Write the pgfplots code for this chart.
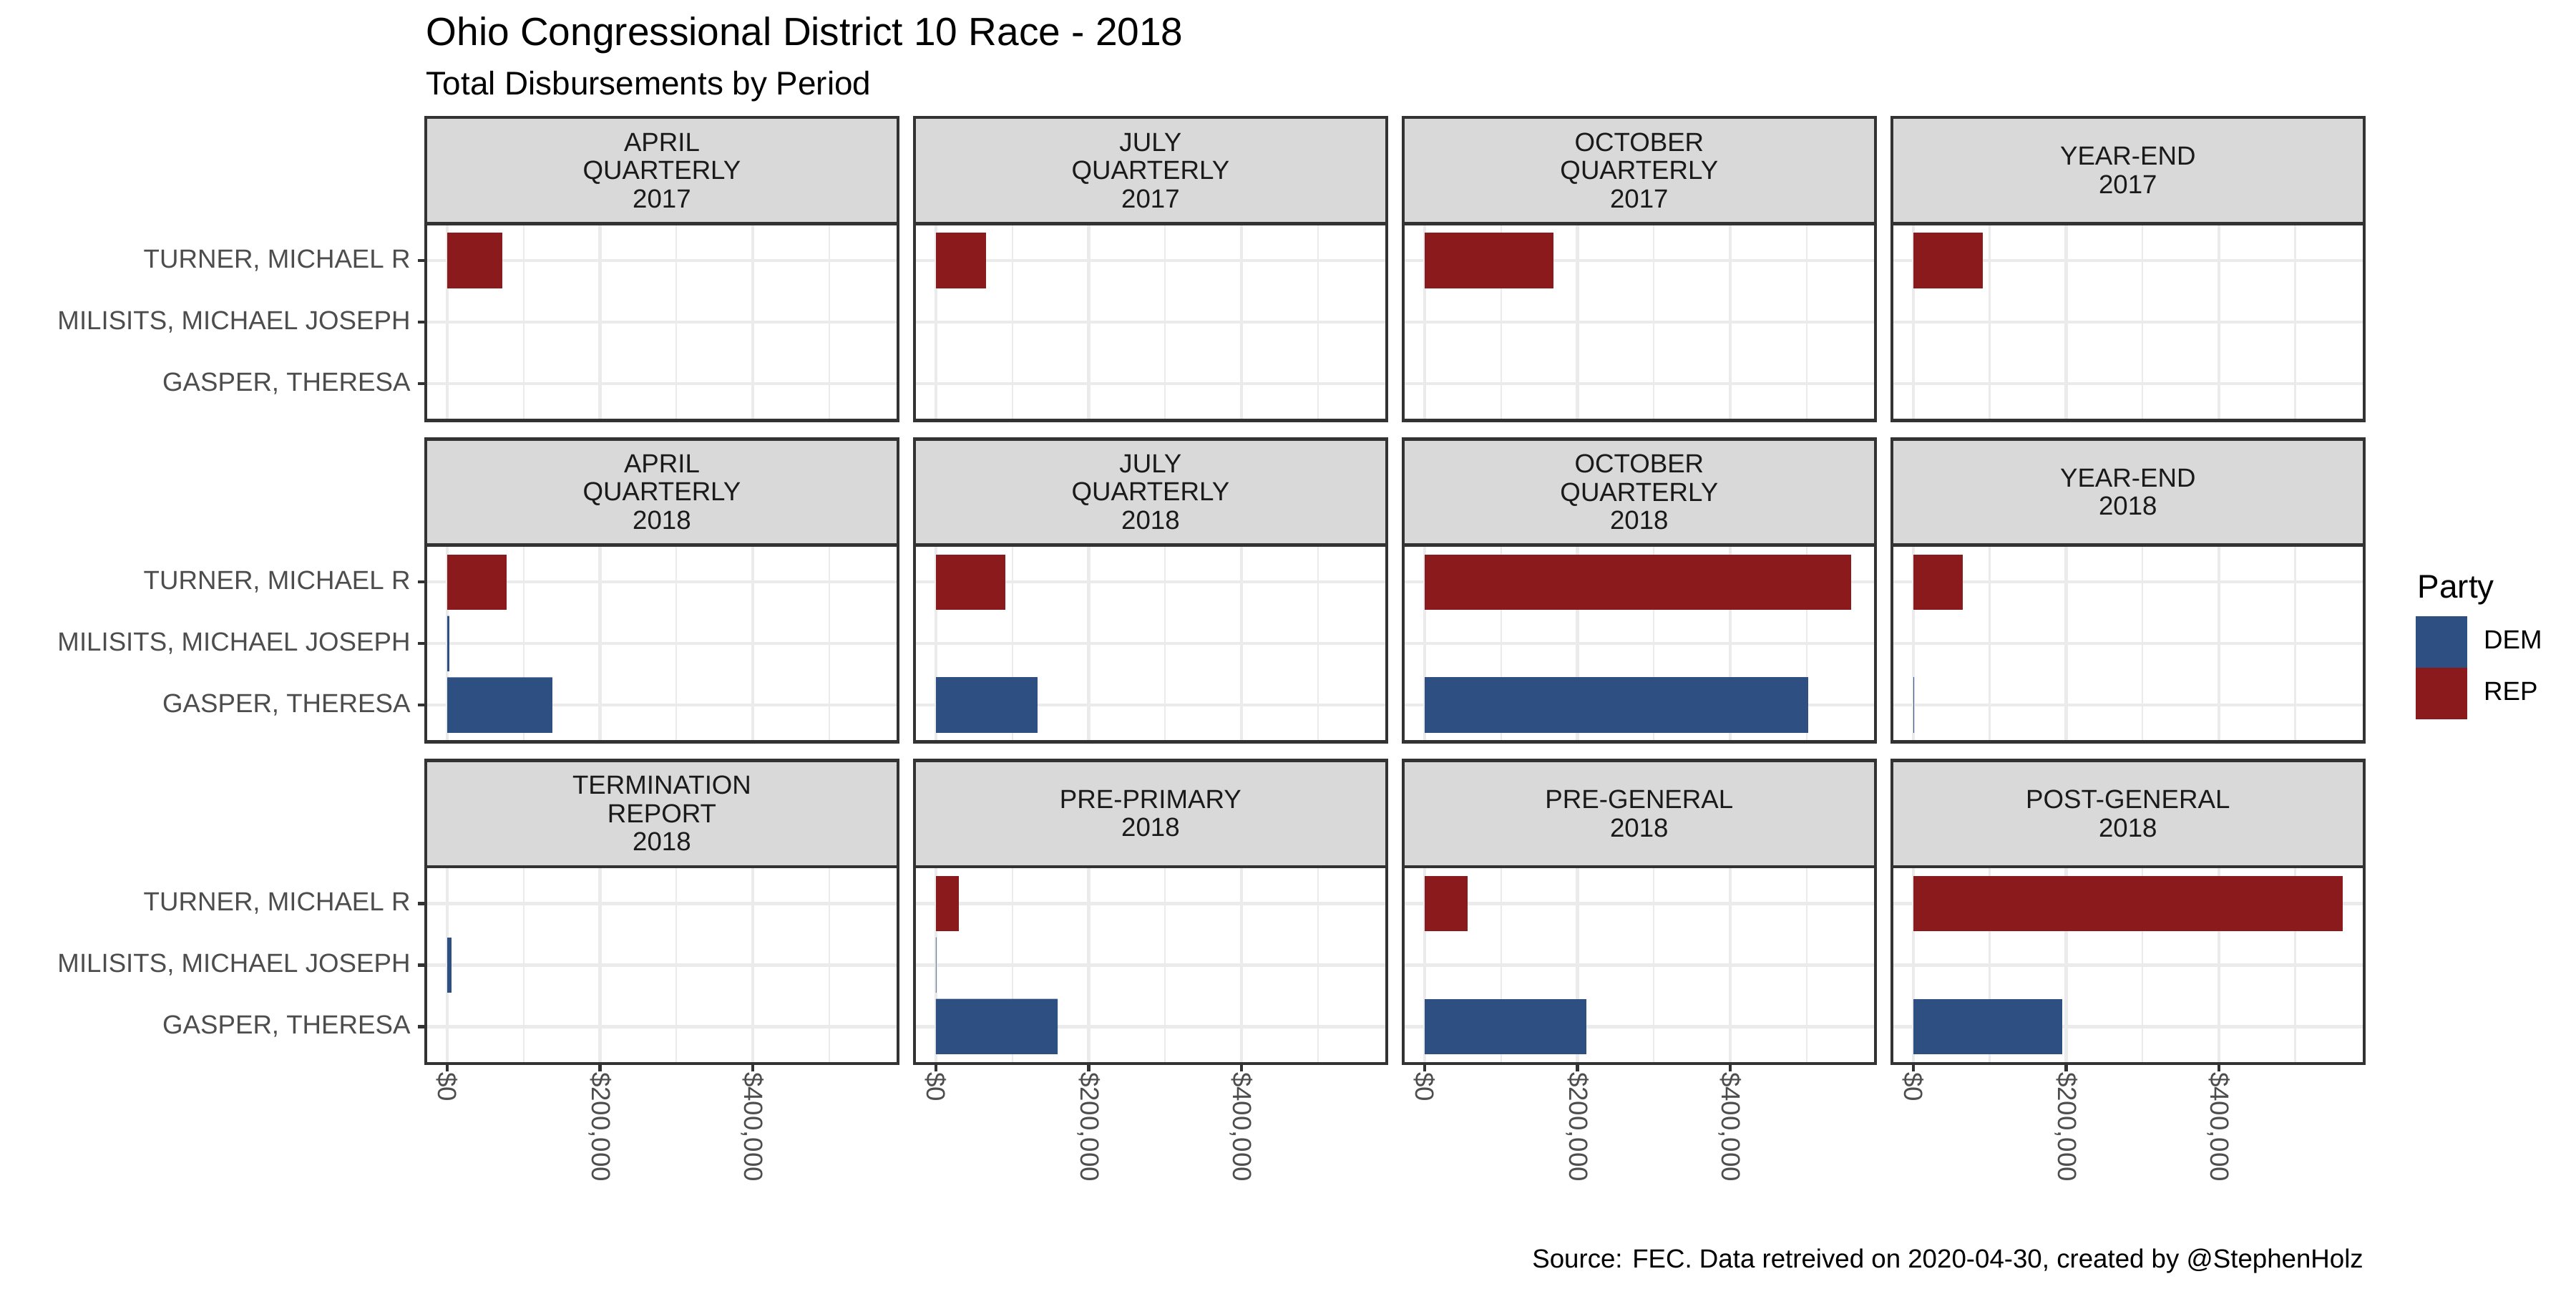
\documentclass[border=0pt]{standalone}
\usepackage{pgfplots}
\pgfplotsset{compat=1.18}
\usepackage{fontspec}
\setmainfont{Liberation Sans}

\definecolor{dem}{RGB}{45,79,130}
\definecolor{rep}{RGB}{139,26,29}
\definecolor{gridc}{HTML}{EBEBEB}
\definecolor{borderc}{HTML}{333333}
\definecolor{stripbg}{HTML}{D9D9D9}
\definecolor{ticktext}{HTML}{4D4D4D}
\definecolor{striptext}{HTML}{1A1A1A}

\pgfplotsset{
  panel/.style={
    scale only axis, width=158.4pt, height=66pt, anchor=north west,
    xmin=-28100, xmax=590100, ymin=0.4, ymax=3.6,
    xtick={0,200000,400000}, minor xtick={100000,300000,500000},
    ytick={1,2,3},
    xmajorgrids, xminorgrids, ymajorgrids,
    major grid style={gridc, line width=1.07pt},
    minor grid style={gridc, line width=0.53pt},
    axis line style={borderc, line width=1.07pt},
    tick align=outside, major tick length=2.75pt, minor tick length=0pt,
    xtick pos=bottom, ytick pos=left,
    xticklabels={}, yticklabels={},
    xtick style={draw=none}, ytick style={draw=none},
    scaled x ticks=false,
  },
  leftcol/.style={
    ytick style={draw=borderc, line width=1.07pt},
    yticklabels={{GASPER, THERESA},{MILISITS, MICHAEL JOSEPH},{TURNER, MICHAEL R}},
    yticklabel style={font=\fontsize{8.8}{10}\selectfont, text=ticktext, inner sep=0pt, xshift=-2.2pt},
  },
  bottomrow/.style={
    xtick style={draw=borderc, line width=1.07pt},
    xticklabels={{\$0},{\$200,000},{\$400,000}},
    xticklabel style={rotate=-90, anchor=west, font=\fontsize{8.8}{10}\selectfont, text=ticktext, inner sep=0pt},
  },
  bar/.style={xbar, bar width=0.9, bar shift=0pt, draw=none, fill=#1},
  key/.style={legend image code/.code={%
    \path (0pt,-8.64pt) rectangle (17.28pt,8.64pt);
    \fill[#1] (0.7pt,-7.94pt) rectangle (16.58pt,7.94pt);}},
}

\newcommand{\strip}[2]{%
  \filldraw[fill=stripbg, draw=borderc, line width=1.07pt]
    (#1.north west) rectangle ([yshift=35.6pt]#1.north east);
  \node[align=center, font=\fontsize{8.8}{9.5}\selectfont, text=striptext, inner sep=0pt]
    at ([yshift=17.8pt]#1.north) {#2};}

\begin{document}
\begin{tikzpicture}
\path[use as bounding box] (0,0) rectangle (864pt,-432pt);

% row 1: 2017
\begin{axis}[panel, leftcol, name=p11, at={(142.8pt,-75pt)}]
  \addplot[bar=rep] coordinates {(72000,3)};
\end{axis}
\begin{axis}[panel, name=p12, at={(306.7pt,-75pt)}]
  \addplot[bar=rep] coordinates {(65500,3)};
\end{axis}
\begin{axis}[panel, name=p13, at={(470.6pt,-75pt)}]
  \addplot[bar=rep] coordinates {(169000,3)};
\end{axis}
\begin{axis}[panel, name=p14, at={(634.5pt,-75pt)}]
  \addplot[bar=rep] coordinates {(91500,3)};
\end{axis}

% row 2: 2018 quarterlies
\begin{axis}[panel, leftcol, name=p21, at={(142.8pt,-182.8pt)}]
  \addplot[bar=dem] coordinates {(137500,1) (2700,2)};
  \addplot[bar=rep] coordinates {(77500,3)};
\end{axis}
\begin{axis}[panel, name=p22, at={(306.7pt,-182.8pt)}]
  \addplot[bar=dem] coordinates {(133500,1)};
  \addplot[bar=rep] coordinates {(90500,3)};
\end{axis}
\begin{axis}[panel, name=p23, at={(470.6pt,-182.8pt)}]
  \addplot[bar=dem] coordinates {(502500,1)};
  \addplot[bar=rep] coordinates {(558000,3)};
\end{axis}
\begin{axis}[panel, name=p24, at={(634.5pt,-182.8pt)},
    legend style={at={(1,1)}, anchor=north west, xshift=17.4pt, yshift=-23.9pt,
      draw=none, fill=none, inner sep=0pt, outer sep=0pt, row sep=0pt,
      nodes={inner sep=0pt, anchor=west}, font=\fontsize{8.8}{10}\selectfont,
      /tikz/every odd column/.append style={column sep=5.5pt}}]
  \addplot[bar=dem, key=dem] coordinates {(1000,1)};
  \addplot[bar=rep, key=rep] coordinates {(64700,3)};
  \legend{DEM,REP}
\end{axis}

% row 3: 2018 other reports
\begin{axis}[panel, leftcol, bottomrow, name=p31, at={(142.8pt,-290.6pt)}]
  \addplot[bar=dem] coordinates {(5400,2)};
\end{axis}
\begin{axis}[panel, bottomrow, name=p32, at={(306.7pt,-290.6pt)}]
  \addplot[bar=dem] coordinates {(159500,1) (600,2)};
  \addplot[bar=rep] coordinates {(30000,3)};
\end{axis}
\begin{axis}[panel, bottomrow, name=p33, at={(470.6pt,-290.6pt)}]
  \addplot[bar=dem] coordinates {(212000,1)};
  \addplot[bar=rep] coordinates {(56000,3)};
\end{axis}
\begin{axis}[panel, bottomrow, name=p34, at={(634.5pt,-290.6pt)}]
  \addplot[bar=dem] coordinates {(195000,1)};
  \addplot[bar=rep] coordinates {(562000,3)};
\end{axis}

\strip{p11}{APRIL\\QUARTERLY\\2017}
\strip{p12}{JULY\\QUARTERLY\\2017}
\strip{p13}{OCTOBER\\QUARTERLY\\2017}
\strip{p14}{YEAR-END\\2017}
\strip{p21}{APRIL\\QUARTERLY\\2018}
\strip{p22}{JULY\\QUARTERLY\\2018}
\strip{p23}{OCTOBER\\QUARTERLY\\2018}
\strip{p24}{YEAR-END\\2018}
\strip{p31}{TERMINATION\\REPORT\\2018}
\strip{p32}{PRE-PRIMARY\\2018}
\strip{p33}{PRE-GENERAL\\2018}
\strip{p34}{POST-GENERAL\\2018}

\node[anchor=base west, inner sep=0pt, font=\fontsize{13.2}{15}\selectfont]
  at (142.8pt,-15.2pt) {Ohio Congressional District 10 Race - 2018};
\node[anchor=base west, inner sep=0pt, font=\fontsize{11}{13}\selectfont]
  at (142.8pt,-31.7pt) {Total Disbursements by Period};
\node[anchor=base west, inner sep=0pt, font=\fontsize{11}{13}\selectfont]
  at (810.7pt,-200.4pt) {Party};
\node[anchor=base east, inner sep=0pt, font=\fontsize{8.8}{10}\selectfont]
  at (792.9pt,-425.1pt) {Source: FEC. Data retreived on 2020-04-30, created by @StephenHolz};
\end{tikzpicture}
\end{document}
